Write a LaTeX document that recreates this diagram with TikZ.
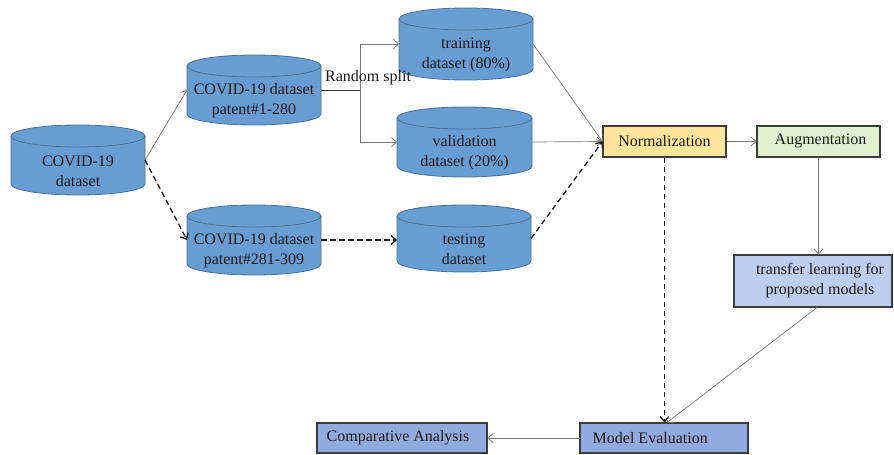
\documentclass[tikz,border=0pt]{standalone}
\usepackage{fontspec}
\setmainfont{Liberation Serif}
\usetikzlibrary{arrows.meta}
\definecolor{cylfill}{RGB}{104,157,211}
\definecolor{cylline}{RGB}{72,112,155}
\definecolor{txt}{RGB}{30,26,27}
\definecolor{normfill}{RGB}{255,229,153}
\definecolor{augfill}{RGB}{222,240,206}
\definecolor{tlfill}{RGB}{190,206,238}
\definecolor{evfill}{RGB}{146,171,222}
\definecolor{boxline}{RGB}{60,60,60}
\definecolor{arrgray}{RGB}{120,120,120}
\tikzset{
  x=1pt, y=1pt,
  lbl/.style={font=\fontsize{16}{20}\selectfont, text=txt, align=center, inner sep=0pt},
  cylstyle/.style={draw=cylline, fill=cylfill, line width=0.8pt},
  cylrim/.style={draw=cylline, line width=0.8pt},
  cylbox/.style={rectangle, inner sep=0pt, outer sep=0pt},
  procbox/.style={rectangle, draw=boxline, line width=1.3pt, inner sep=0pt, outer sep=0.5pt},
  tipopen/.style={-{Straight Barb[length=5pt,width=9pt]}},
  solidarr/.style={draw=arrgray, line width=0.7pt, tipopen},
  dasharr/.style={draw=txt, line width=1.3pt, dash pattern=on 5.5pt off 3.5pt, -{Straight Barb[length=5pt,width=9pt]}},
  splitln/.style={draw=black!80, line width=0.9pt},
}
\newcommand\dbcyl[6]{% name, left, top, right, bottom, text
  \filldraw[cylstyle] (#2,{-(#3+11)}) -- (#2,{-(#5-11)})
     arc[start angle=180,end angle=360,x radius={(#4-#2)/2*1pt},y radius=11pt]
     -- (#4,{-(#3+11)})
     arc[start angle=0,end angle=180,x radius={(#4-#2)/2*1pt},y radius=11pt] -- cycle;
  \draw[cylrim] (#2,{-(#3+11)}) arc[start angle=180,end angle=360,x radius={(#4-#2)/2*1pt},y radius=11pt];
  \node[cylbox, minimum width={(#4-#2)*1pt}, minimum height={(#5-#3)*1pt}] (#1) at ({(#2+#4)/2},{-(#3+#5)/2}) {};
  \node[lbl] (#1-t) at ({(#2+#4)/2},{-(#3+#5)/2-11}) {#6};
}
\begin{document}
\begin{tikzpicture}
\useasboundingbox (0,0) rectangle (894,-455);

% cylinders
\dbcyl{all}{11}{125}{145}{195}{COVID-19\\dataset}
\dbcyl{ca}{187}{55}{321}{125}{COVID-19 dataset\\patent\#1-280}
\dbcyl{cb}{187}{205}{321}{275}{COVID-19 dataset\\patent\#281-309}
\dbcyl{train}{399}{8}{533}{80}{training\\dataset (80\%)}
\dbcyl{val}{397}{107}{532}{177}{validation\\dataset (20\%)}
\dbcyl{test}{397}{205}{531}{272}{testing\\dataset}

% process boxes
\node[procbox, fill=normfill, minimum width=123pt, minimum height=31pt] (norm) at (664.5,-141.5) {};
\node[lbl] (norm-t) at (norm.center) {Normalization};
\node[procbox, fill=augfill, minimum width=123pt, minimum height=31pt] (aug) at (818.5,-141.5) {};
\node[lbl] (aug-t) at ([xshift=2pt,yshift=1pt]aug.center) {Augmentation};
\node[procbox, fill=tlfill, minimum width=158pt, minimum height=52pt] (tl) at (813,-281) {};
\node[lbl] (tl-t) at ([xshift=7pt]tl.center) {transfer learning for\\proposed models};
\node[procbox, fill=evfill, minimum width=168pt, minimum height=30pt] (me) at (664,-438) {};
\node[lbl, anchor=west] (me-t) at ([xshift=13pt]me.west) {Model Evaluation};
\node[procbox, fill=evfill, minimum width=170pt, minimum height=30pt] (cmp) at (402,-438) {};
\node[lbl, anchor=west] (cmp-t) at ([xshift=10pt]cmp.west) {Comparative Analysis};

% connectors
\draw[solidarr] (all.east) -- (ca.west);
\draw[dasharr] (all.east) -- (cb.west);

\coordinate (split) at (360,-90);
\draw[splitln] (ca.east) -- (split);
\draw[solidarr] (split) |- (train.west);
\draw[solidarr] (split) |- (val.west);
\node[lbl, anchor=west] (rs) at (325,-78) {Random split};

\draw[dasharr] (cb.east) -- (cb.east -| test.west);

\draw[solidarr] (train.east) -- (norm.west);
\draw[solidarr] (val.east) -- (norm.west);
\draw[dasharr] (test.east) -- (norm.west);

\draw[solidarr] (norm.east) -- (aug.west);
\draw[solidarr] (aug.south) -- (aug.south |- tl.north);
\draw[dasharr] (norm.south) -- (norm.south |- me.north);
\draw[solidarr] ([xshift=4pt]tl.south) -- ([xshift=3pt]me.north);
\draw[solidarr] (me.west) -- (cmp.east);
\end{tikzpicture}
\end{document}
